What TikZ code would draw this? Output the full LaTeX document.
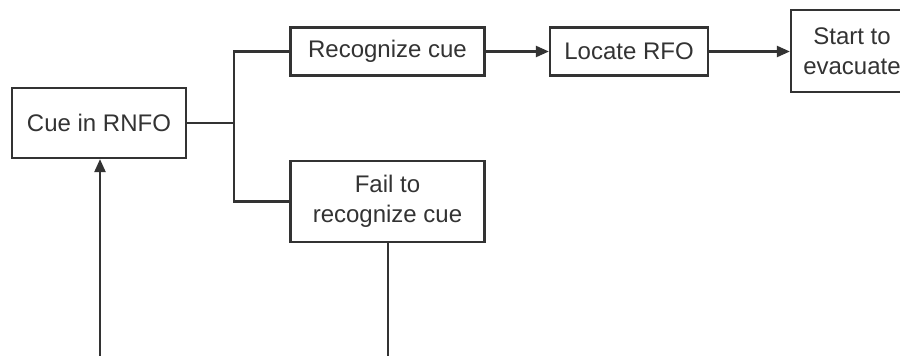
\documentclass[tikz,border=0pt]{standalone}
\usepackage{fontspec}
\setmainfont{Liberation Sans}
\usetikzlibrary{arrows.meta}
\definecolor{ink}{HTML}{333333}
\begin{document}
\begin{tikzpicture}[x=1pt,y=-1pt,
  box/.style={draw=ink,line width=2.2pt,text=ink,align=center,inner sep=0pt,
    font=\fontsize{24}{30}\selectfont},
  link/.style={draw=ink,line width=2.2pt},
  arr/.style={link,-{Triangle[length=13pt,width=11pt]}}]
\clip (0,0) rectangle (900,356);
\fill[white] (0,0) rectangle (900,356);
% decision boxes
\node[box,minimum width=174pt,minimum height=70pt] (cue) at (99,123) {Cue in RNFO};
\node[box,minimum width=194pt,minimum height=48pt] (rec) at (387.5,51.5) {Recognize cue};
\node[box,minimum width=158pt,minimum height=48pt] (loc) at (629,51.5) {Locate RFO};
\node[box,minimum width=122pt,minimum height=82pt] (evac) at (852,51) {Start to\\evacuate};
\node[box,minimum width=194pt,minimum height=81pt] (fail) at (387.5,201.5) {Fail to\\recognize cue};
% branching from the cue
\coordinate (fork) at (234,0);
\coordinate (bot1) at (100,356);
\coordinate (bot2) at (388,356);
\draw[link] (cue.east) -- (fork |- cue.east);
\draw[link] (rec.west) -- (fork |- rec.west) -- (fork |- fail.west) -- (fail.west);
% forward chain
\draw[arr] (rec.east) -- (loc.west);
\draw[arr] (loc.east) -- (evac.west |- loc.east);
% lines leaving the frame at the bottom
\draw[arr] (bot1) -- (bot1 |- cue.south);
\draw[link] (fail.south -| bot2) -- (bot2);
\end{tikzpicture}
\end{document}
